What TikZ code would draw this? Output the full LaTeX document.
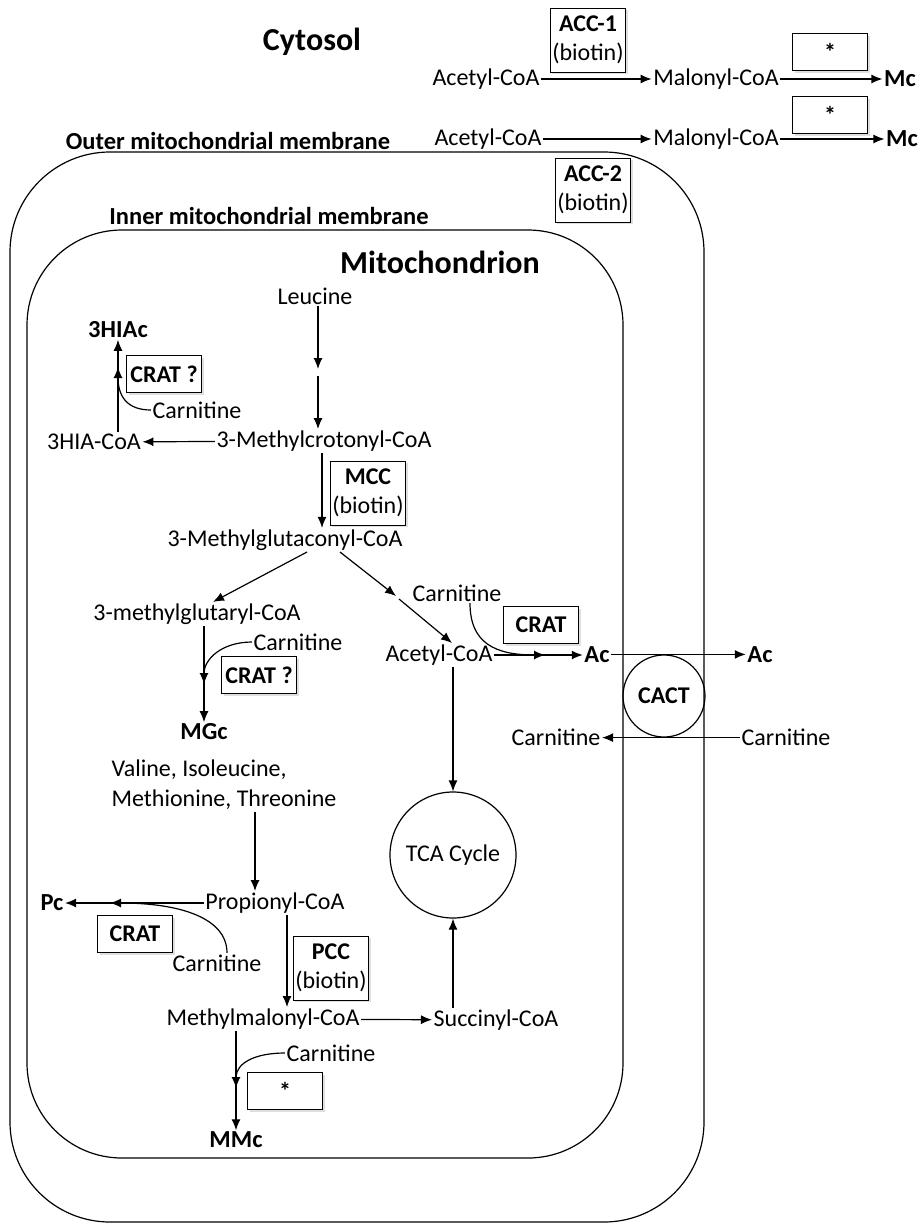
\documentclass[tikz,border=0pt]{standalone}
\usepackage{fontspec}
\setmainfont{Carlito}
\usetikzlibrary{arrows.meta,shadows}

\begin{document}
\begin{tikzpicture}[x=1pt,y=-1pt,
	every node/.style={font=\fontsize{24}{29}\selectfont,inner sep=1.5pt},
	prod/.style={font=\fontsize{24.5}{29}\selectfont\bfseries},
	ttl/.style={font=\fontsize{32}{36}\selectfont\bfseries},
	enz/.style={draw,line width=1pt,fill=white,align=center,minimum width=75pt,minimum height=37pt,inner sep=2pt,font=\fontsize{24}{29}\selectfont\bfseries,drop shadow={shadow xshift=2pt,shadow yshift=-2pt,opacity=0.25}},
	enzb/.style={enz,minimum height=64pt},
	arr/.style={line width=1.2pt,-{Latex[length=11pt,width=9pt]}},
	ln/.style={line width=1.2pt}]
	\useasboundingbox (0,0) rectangle (921,1224);
	\draw[ln,rounded corners=100pt] (10,152) rectangle (704,1222);
	\draw[ln,rounded corners=95pt] (27,230) rectangle (623,1158);

	\node[ttl] at (312,42)(cyt){Cytosol};
	\node[prod] at (228,141)(outer){Outer mitochondrial membrane};
	\node[prod] at (269,216)(inner){Inner mitochondrial membrane};
	\node[ttl] at (440,262)(mito){Mitochondrion};

	\node at (486,79)(aca1){Acetyl-CoA};
	\node at (716,79)(mal1){Malonyl-CoA};
	\node[prod] at (900,79)(mc1){Mc};
	\node[enzb] at (588,40)(acc1){ACC-1\\\mdseries(biotin)};
	\node[enz] at (830,52)(st1){*};
	\node at (488,139)(aca2){Acetyl-CoA};
	\node at (716,139)(mal2){Malonyl-CoA};
	\node[prod] at (902,139)(mc2){Mc};
	\node[enz] at (830,115)(st2){*};
	\node[enzb] at (593,190)(acc2){ACC-2\\\mdseries(biotin)};
	\path[arr] (aca1) edge (mal1)
	(mal1) edge (mc1)
	(aca2) edge (mal2)
	(mal2) edge (mc2);

	\node at (315,296)(leu){Leucine};
	\node at (324,441)(mcrot){3-Methylcrotonyl-CoA};
	\node at (94,442)(hiacoa){3HIA-CoA};
	\node[prod] at (118,330)(hiac){3HIAc};
	\node at (197,410)(carn1){Carnitine};
	\node[enz] at (164,374)(crat1){CRAT ?};
	\coordinate (l1) at (318,369);
	\coordinate (l2) at (318,376);
	\coordinate (j1) at (118,367);
	\draw[arr] (leu.south -| l1) -- (l1);
	\draw[arr] (l2) -- (l2 |- mcrot.north);
	\draw[arr] (mcrot) -- (hiacoa);
	\draw[arr] (hiacoa.north -| hiac) -- (hiac.south);
	\draw[arr] (carn1.west) .. controls +(-25,0) and +(0,28) .. (j1);

	\node at (285,540)(mglucon){3-Methylglutaconyl-CoA};
	\node[enzb] at (368,493)(mcc){MCC\\\mdseries(biotin)};
	\draw[arr] ([xshift=-2pt]mcrot.south) -- ([xshift=-2pt]mcrot.south |- mglucon.north);

	\node at (197,614)(mglutar){3-methylglutaryl-CoA};
	\node at (298,642)(carn2){Carnitine};
	\node[enz] at (259,675)(crat2){CRAT ?};
	\node[prod] at (204,732)(mgc){MGc};
	\coordinate (g1) at (307,552);
	\coordinate (g2) at (340,552);
	\coordinate (g3) at (396,596);
	\coordinate (g4) at (399,599);
	\coordinate (j2) at (204,684);
	\draw[arr] (g1) -- ([xshift=16pt]mglutar.north);
	\draw[arr] (mglutar.south -| mgc) -- (mgc.north);
	\draw[arr] (carn2.west) .. controls +(-30,0) and +(0,-25) .. (j2);

	\node at (457,593)(carn3){Carnitine};
	\node[enz] at (541,625)(crat3){CRAT};
	\node at (439,655)(aca3){Acetyl-CoA};
	\node[prod] at (597,655)(ac1){Ac};
	\node[prod] at (760,655)(ac2){Ac};
	\node[draw,circle,ln,minimum size=82pt,inner sep=0pt,font=\fontsize{24}{29}\selectfont\bfseries] at (664,696)(cact){CACT};
	\node at (786,737)(carn4){Carnitine};
	\node at (556,737)(carn5){Carnitine};
	\coordinate (j3) at (545,655);
	\draw[arr] (g2) -- (g3);
	\draw[arr] (g4) -- ([xshift=13pt]aca3.north);
	\draw[arr] (aca3) -- (ac1);
	\draw[arr] ([xshift=13pt]carn3.south) .. controls +(0,40) and +(-50,0) .. (j3);
	\draw[arr] (ac1.east |- cact.north) -- (ac2.west |- cact.north);
	\draw[arr] (carn4.west |- cact.south) -- (carn5.east |- cact.south);

	\node[draw,circle,ln,minimum size=126pt,inner sep=0pt] at (453,855)(tca){TCA Cycle};
	\draw[arr] (aca3.south -| tca) -- (tca.north);

	\node[align=left,font=\fontsize{24}{30}\selectfont] at (224,785)(val){Valine, Isoleucine,\\Methionine, Threonine};
	\node at (275,903)(prop){Propionyl-CoA};
	\node[prod] at (52,903)(pc){Pc};
	\node[enz] at (135,934)(crat4){CRAT};
	\node at (217,963)(carn6){Carnitine};
	\node[enzb] at (331,968)(pcc){PCC\\\mdseries(biotin)};
	\node at (263,1019)(mmal){Methylmalonyl-CoA};
	\node at (496,1020)(succ){Succinyl-CoA};
	\node at (331,1053)(carn7){Carnitine};
	\node[enz] at (285,1091)(st3){*};
	\node[prod] at (236,1140)(mmc){MMc};
	\coordinate (j4) at (110,903);
	\coordinate (j5) at (236,1088);
	\draw[arr] ([xshift=31pt]val.south) -- ([xshift=-20pt]prop.north);
	\draw[arr] (prop) -- (pc);
	\draw[arr] ([xshift=10pt]carn6.north) .. controls +(0,-35) and +(70,0) .. (j4);
	\draw[arr] ([xshift=12pt]prop.south) -- ([xshift=24pt]mmal.north);
	\draw[arr] (mmal) -- (succ);
	\draw[arr] (succ.north -| tca) -- (tca.south);
	\draw[arr] ([xshift=-27pt]mmal.south) -- (mmc.north);
	\draw[arr] (carn7.west) .. controls +(-30,0) and +(0,-25) .. (j5);
\end{tikzpicture}
\end{document}
